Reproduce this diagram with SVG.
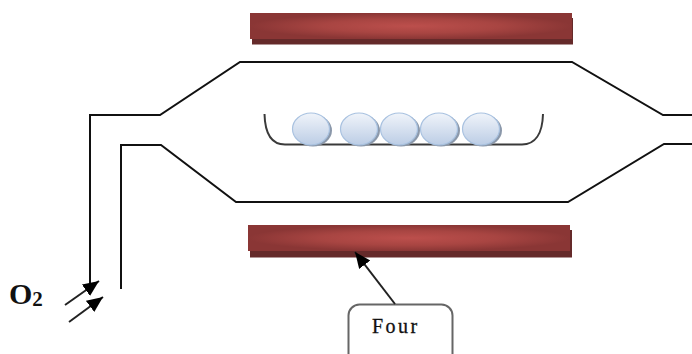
<svg xmlns="http://www.w3.org/2000/svg" width="692" height="354" viewBox="0 0 692 354">
  <style>
    .tube { fill: none; stroke: #111; stroke-width: 2; }
    .tray { fill: none; stroke: #3a3a3a; stroke-width: 2; }
    .arrow { fill: none; stroke: #222; stroke-width: 2; }
    .shade { fill: #652a2a; }
    .bar { fill: url(#brick); }
    .pellet { fill: url(#pearl); stroke: #a9c2e0; stroke-width: 1.2; }
    .pellet-shadow { fill: #8b98aa; }
    text { font-family: "Liberation Serif", "Times New Roman", serif; fill: #111; }
  </style>
  <defs>
    <radialGradient id="brick" cx="0.5" cy="0.5" r="0.5">
      <stop offset="0" stop-color="#bc4f4c"/>
      <stop offset="0.55" stop-color="#a84542"/>
      <stop offset="1" stop-color="#8a3635"/>
    </radialGradient>
    <linearGradient id="pearl" x1="0" y1="0" x2="0" y2="1">
      <stop offset="0" stop-color="#f0f4fa"/>
      <stop offset="1" stop-color="#bccde5"/>
    </linearGradient>
    <marker id="head" markerUnits="userSpaceOnUse" markerWidth="18" markerHeight="16" refX="16" refY="7" orient="auto">
      <path d="M0 0L16 7L0 14Z" fill="#000"/>
    </marker>
  </defs>

  <g id="heater-top">
    <rect class="shade" x="252" y="18" width="321" height="26.500"/>
    <rect class="bar" x="250" y="13" width="322" height="26"/>
  </g>
  <g id="heater-bottom">
    <rect class="shade" x="250" y="230" width="322" height="27.500"/>
    <rect class="bar" x="248" y="225" width="322" height="26"/>
  </g>

  <g id="boat">
    <path class="tray" d="M264.500 114C265 134 272 144.500 285 144.500H522C535 144.500 542.500 134 543 114"/>
    <g id="pellets">
      <ellipse class="pellet-shadow" cx="313" cy="130.500" rx="19" ry="16"/>
      <ellipse class="pellet" cx="311" cy="129" rx="18.500" ry="16"/>
      <ellipse class="pellet-shadow" cx="361" cy="130.500" rx="19" ry="16"/>
      <ellipse class="pellet" cx="359" cy="129" rx="18.500" ry="16"/>
      <ellipse class="pellet-shadow" cx="401" cy="130.500" rx="19" ry="16"/>
      <ellipse class="pellet" cx="399" cy="129" rx="18.500" ry="16"/>
      <ellipse class="pellet-shadow" cx="441" cy="130.500" rx="19" ry="16"/>
      <ellipse class="pellet" cx="439" cy="129" rx="18.500" ry="16"/>
      <ellipse class="pellet-shadow" cx="483" cy="130.500" rx="19" ry="16"/>
      <ellipse class="pellet" cx="481" cy="129" rx="18.500" ry="16"/>
    </g>
  </g>

  <g id="label-four">
    <rect x="348.500" y="304.500" width="104" height="60" rx="11" fill="#fff" stroke="#666" stroke-width="2"/>
    <text x="372" y="333" font-size="20" letter-spacing="2.500" stroke="#111" stroke-width="0.300">Four</text>
  </g>
  <g id="label-o2">
    <text x="9" y="304" font-size="30" font-weight="bold">O<tspan font-size="21" dy="2">2</tspan></text>
  </g>

  <g id="connectors">
    <path class="tube" d="M90 285V115H160L240 62H572L663 115H692"/>
    <path class="tube" d="M121 289V145H161L236 202H568L664 144H692"/>
    <path class="arrow" d="M65 305L99 281" marker-end="url(#head)"/>
    <path class="arrow" d="M69 322L103 297" marker-end="url(#head)"/>
    <path class="arrow" d="M395 304L355 252" marker-end="url(#head)"/>
  </g>
</svg>
